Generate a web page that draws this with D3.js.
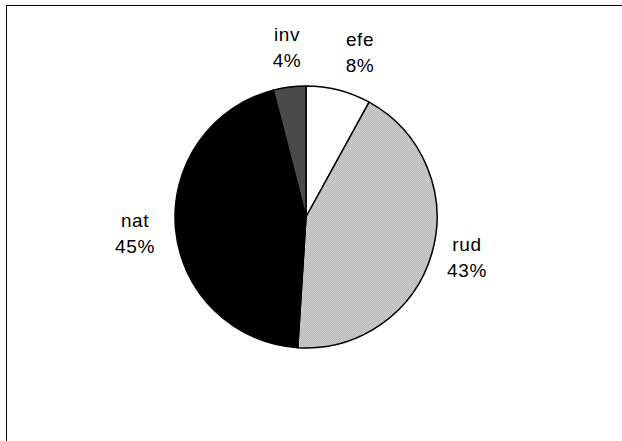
<!DOCTYPE html>
<html>
<head>
<meta charset="utf-8">
<script src="https://cdn.jsdelivr.net/npm/d3@7"></script>
<style>
  body { margin: 0; background: #fff; }
  svg { display: block; }
</style>
</head>
<body>
<svg id="chart"></svg>
<script>
// slices, clockwise from 12 o'clock
const labels = ['efe', 'rud', 'nat', 'inv'];
const values = [8, 43, 45, 4];
const percents = ['8%', '43%', '45%', '4%'];

const width = 622, height = 441;
const cx = 306, cy = 217, radius = 131;

const svg = d3.select('#chart')
  .attr('width', width)
  .attr('height', height);

// fine grey texture for rud
const defs = svg.append('defs');
const pat = defs.append('pattern')
  .attr('id', 'dots')
  .attr('width', 2).attr('height', 2)
  .attr('patternUnits', 'userSpaceOnUse');
pat.append('rect').attr('width', 2).attr('height', 2).attr('fill', '#cdcdcd');
pat.append('rect').attr('width', 1).attr('height', 1).attr('fill', '#bababa');
pat.append('rect').attr('x', 1).attr('y', 1).attr('width', 1).attr('height', 1).attr('fill', '#bababa');

// outer frame
svg.append('rect')
  .attr('x', 6.5).attr('y', 5.5)
  .attr('width', 640).attr('height', 460)
  .attr('fill', 'none')
  .attr('stroke', '#000')
  .attr('stroke-width', 1);

const fills = d3.scaleOrdinal()
  .domain(labels)
  .range(['#ffffff', 'url(#dots)', '#000000', '#4a4a4a']);

const pie = d3.pie().sort(null).value(d => d.value);
const arc = d3.arc().innerRadius(0).outerRadius(radius);

const data = labels.map((l, i) => ({ label: l, value: values[i], pct: percents[i] }));

const g = svg.append('g')
  .attr('transform', 'translate(' + cx + ',' + cy + ')');

g.selectAll('path')
  .data(pie(data))
  .enter()
  .append('path')
  .attr('d', arc)
  .attr('fill', d => fills(d.data.label))
  .attr('stroke', '#000')
  .attr('stroke-width', 1.5)
  .attr('stroke-linejoin', 'round');

// label positions (outside the pie)
const labelPos = {
  efe: [360, 46],
  rud: [467, 251],
  nat: [135, 227],
  inv: [287, 41]
};

const txt = svg.append('g')
  .attr('font-family', '"Liberation Sans", Arial, sans-serif')
  .attr('font-size', 19)
  .attr('letter-spacing', 0.6)
  .attr('fill', '#000')
  .attr('text-anchor', 'middle');

data.forEach(d => {
  const p = labelPos[d.label];
  const t = txt.append('text').attr('x', p[0]).attr('y', p[1]);
  t.append('tspan').attr('x', p[0]).text(d.label);
  t.append('tspan').attr('x', p[0]).attr('dy', 26).text(d.pct);
});
</script>
</body>
</html>
